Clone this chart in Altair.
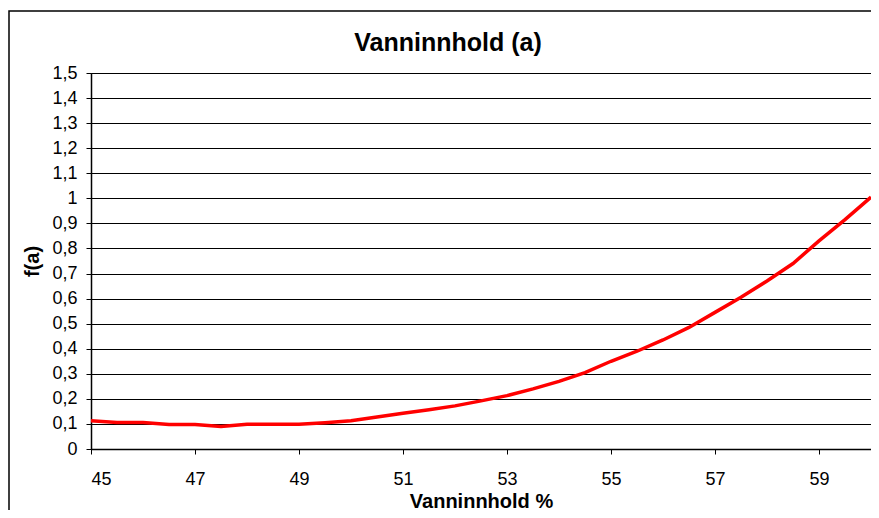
import altair as alt
import pandas as pd

# Data
water_pct = [45.0, 45.5, 46.0, 46.5, 47.0, 47.5, 48.0, 48.5, 49.0, 49.5,
             50.0, 50.5, 51.0, 51.5, 52.0, 52.5, 53.0, 53.5, 54.0, 54.5,
             55.0, 55.5, 56.0, 56.5, 57.0, 57.5, 58.0, 58.5, 59.0, 59.5, 60.0]
f_a = [0.113, 0.106, 0.106, 0.098, 0.098, 0.090, 0.099, 0.099, 0.099, 0.105,
       0.113, 0.128, 0.143, 0.157, 0.172, 0.192, 0.213, 0.240, 0.270, 0.305,
       0.350, 0.390, 0.435, 0.485, 0.545, 0.605, 0.670, 0.740, 0.830, 0.915, 1.005]
x_ticks = [45, 47, 49, 51, 53, 55, 57, 59]
y_ticks = [0, 0.1, 0.2, 0.3, 0.4, 0.5, 0.6, 0.7, 0.8, 0.9, 1.0,
           1.1, 1.2, 1.3, 1.4, 1.5]

df = pd.DataFrame({"x": water_pct, "y": f_a})

LEFT, TOP = 83, 65
W, H = 780, 376
FONT = "Liberation Sans"

frame = alt.Chart(pd.DataFrame({"k": [0]})).mark_rect(
    fillOpacity=0, stroke="#000000", strokeWidth=1.5
).encode(
    x=alt.value(-LEFT + 1), x2=alt.value(W + 60),
    y=alt.value(-62), y2=alt.value(H + 120),
)

line = alt.Chart(df).mark_line(color="#ff0000", strokeWidth=3.5).encode(
    x=alt.X("x:Q",
            scale=alt.Scale(domain=[45, 60], nice=False, zero=False),
            axis=alt.Axis(values=x_ticks, grid=False, title="Vanninnhold %",
                          labelFontSize=18, labelFont=FONT, labelColor="#000",
                          labelPadding=16, labelBaseline="top",
                          tickSize=5, tickColor="#000", tickWidth=1,
                          domainColor="#000", domainWidth=1.5,
                          titleFont=FONT, titleFontSize=20, titleFontWeight="bold",
                          titleColor="#000", titleBaseline="alphabetic",
                          titleY=58)),
    y=alt.Y("y:Q",
            scale=alt.Scale(domain=[0, 1.5], nice=False),
            axis=alt.Axis(values=y_ticks, grid=True, gridColor="#000",
                          gridWidth=1, gridOpacity=1, title="f(a)",
                          labelExpr="replace(format(datum.value, '.1~f'), '.', ',')",
                          labelFontSize=18, labelFont=FONT, labelColor="#000",
                          labelPadding=9,
                          tickSize=5, tickColor="#000", tickWidth=1,
                          domainColor="#000", domainWidth=1.5,
                          titleFont=FONT, titleFontSize=20, titleFontWeight="bold",
                          titleColor="#000", titleAngle=270,
                          titleX=-59, titleY=H / 2,
                          titleAlign="center", titleBaseline="middle")),
)

chart = alt.layer(frame, line).properties(
    width=W, height=H,
    autosize=alt.AutoSizeParams(type="none"),
    padding={"left": LEFT, "top": TOP, "right": 0, "bottom": 61},
    background="white",
    title=alt.TitleParams("Vanninnhold (a)", font=FONT, fontSize=25,
                          fontWeight="bold", color="#000", anchor="middle",
                          dx=-33, offset=-66, baseline="alphabetic"),
).configure_view(stroke="#000", strokeWidth=1)

chart.save("out.html", embed_options={"renderer": "svg", "actions": False})
